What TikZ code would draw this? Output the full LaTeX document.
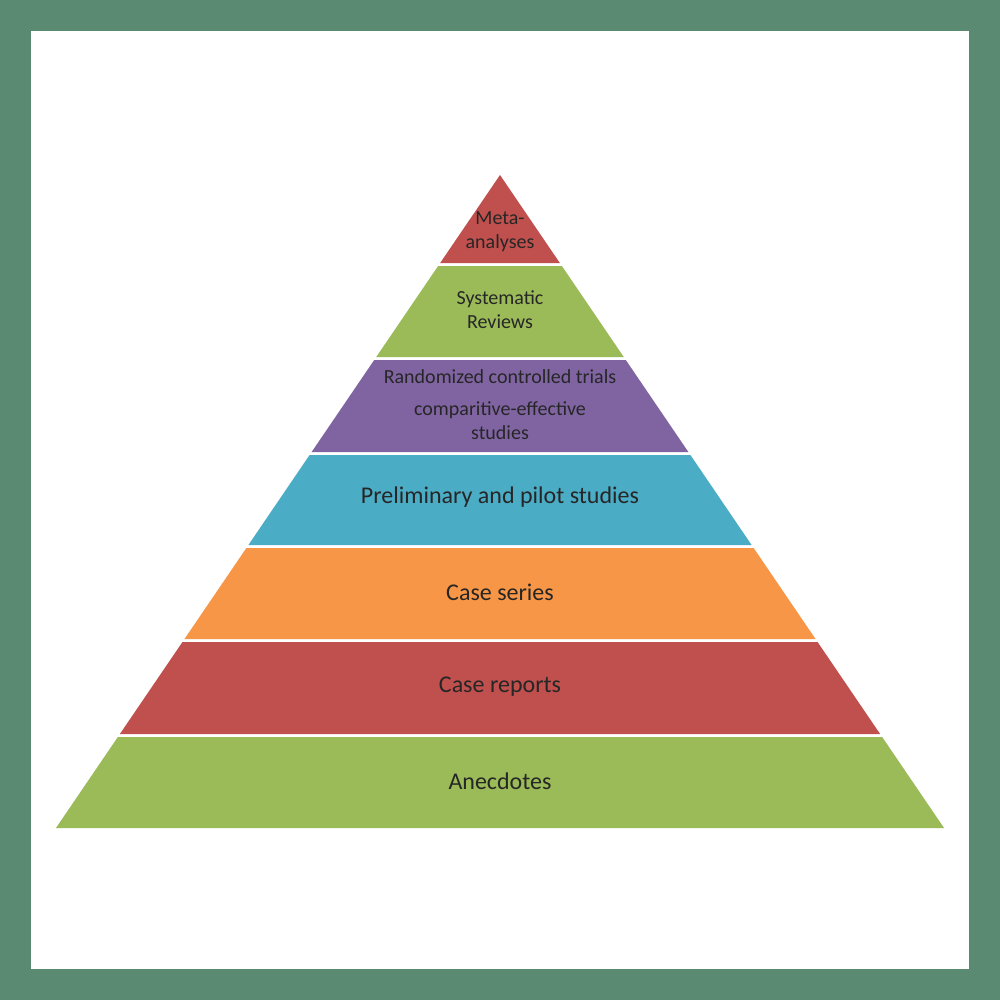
\documentclass[tikz,border=0pt]{standalone}
\usepackage{fontspec}
\setmainfont{Carlito}
\definecolor{frame}{HTML}{5A8A72}
\definecolor{cred}{HTML}{C0504D}
\definecolor{cgreen}{HTML}{9BBB59}
\definecolor{cpurple}{HTML}{8064A2}
\definecolor{cblue}{HTML}{4BACC6}
\definecolor{corange}{HTML}{F79646}
\begin{document}
\begin{tikzpicture}[x=1pt,y=-1pt,
  lbl/.style={font=\fontsize{24}{28}\selectfont,text=black!85,align=center},
  slbl/.style={font=\fontsize{20}{24}\selectfont,text=black!85,align=center}]
\fill[frame] (0,0) rectangle (1000,1000);
\fill[white] (31,31) rectangle (969,969);
\def\s{0.68}
\foreach \t/\b/\c in {175/263/cred,266/357/cgreen,360/452/cpurple,455/545/cblue,548/639/corange,642/734/cred,737/828/cgreen}{
  \pgfmathsetmacro\wt{(\t-175)*\s}
  \pgfmathsetmacro\wb{(\b-175)*\s}
  \fill[\c] (500-\wt,\t) -- (500+\wt,\t) -- (500+\wb,\b) -- (500-\wb,\b) -- cycle;
}
\node[slbl] (m) at (500,232) {Meta-\\analyses};
\node[slbl] (sr) at (500,310) {Systematic\\Reviews};
\node[slbl] (rct) at (500,377) {Randomized controlled trials};
\node[slbl] (ce) at (500,421) {comparitive-effective\\studies};
\node[lbl] (pp) at (500,497) {Preliminary and pilot studies};
\node[lbl] (cs) at (500,592) {Case series};
\node[lbl] (cr) at (500,687) {Case reports};
\node[lbl] (an) at (500,781) {Anecdotes};
\end{tikzpicture}
\end{document}
